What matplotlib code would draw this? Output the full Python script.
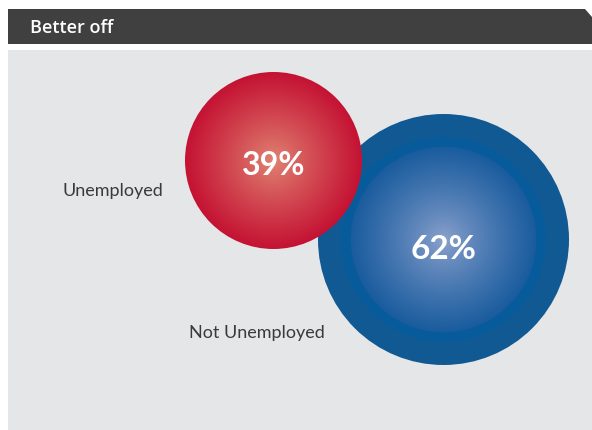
import matplotlib.pyplot as plt
import numpy as np
from matplotlib.patches import Circle, Polygon, Rectangle

title = "Better off"
labels = ["Unemployed", "Not Unemployed"]
values = [39, 62]

# layout (pixels, y down)
centers = [(273.5, 160.5), (443.5, 239.5)]
radii = [88.5, 125.5]
label_pos = [(63, 191), (189, 333)]
inner_col = [(0.88, 0.52, 0.45), (0.56, 0.64, 0.81)]
outer_col = [(0.77, 0.07, 0.20), (0.10, 0.36, 0.62)]

fig = plt.figure(figsize=(5.92, 4.30), dpi=100)
ax = fig.add_axes([0, 0, 1, 1])
ax.set_xlim(0, 592)
ax.set_ylim(430, 0)
ax.axis('off')

ax.add_patch(Polygon([(8, 9), (585, 9), (592, 17), (592, 44), (8, 44)],
                     closed=True, color='#404040', lw=0))
ax.text(30, 28, title, color='white', fontsize=13, family='Open Sans',
        fontweight='semibold', va='center', ha='left')
ax.add_patch(Rectangle((8, 50), 584, 380, color='#e5e6e8', lw=0))


def disc(cx, cy, r, c_in, c_out, zorder, rings=False):
    n = 400
    xs = np.linspace(cx - r, cx + r, n)
    ys = np.linspace(cy - r, cy + r, n)
    X, Y = np.meshgrid(xs, ys)
    d = np.sqrt((X - cx) ** 2 + (Y - cy) ** 2) / r
    if rings:
        t = np.clip(d / 0.74, 0, 1) ** 0.8
    else:
        t = np.clip(d, 0, 1) ** 0.9
    img = np.zeros((n, n, 3))
    for k in range(3):
        img[..., k] = c_in[k] + (c_out[k] - c_in[k]) * t
    if rings:
        ring1 = (d > 0.74) & (d <= 0.82)
        ring2 = d > 0.82
        img[ring1] = (0.03, 0.36, 0.61)
        img[ring2] = (0.07, 0.35, 0.58)
    im = ax.imshow(img, extent=(cx - r, cx + r, cy + r, cy - r),
                   zorder=zorder, interpolation='bilinear')
    clip = Circle((cx, cy), r, transform=ax.transData)
    im.set_clip_path(clip)


disc(*centers[1], radii[1], inner_col[1], outer_col[1], 2, rings=True)
disc(*centers[0], radii[0], inner_col[0], outer_col[0], 3)
ax.set_xlim(0, 592)
ax.set_ylim(430, 0)

for (cx, cy), v, fs, dy in zip(centers, values, [23, 24], [5, 10]):
    ax.text(cx, cy + dy, f"{v}%", color='white', fontsize=fs, family='Lato',
            fontweight='bold', ha='center', va='center', zorder=5)

for (x, y), lab in zip(label_pos, labels):
    ax.text(x, y, lab, color='#3a3a3a', fontsize=13, family='Lato',
            fontweight='normal', ha='left', va='center', zorder=5)

fig.savefig('out.png', dpi=100)
